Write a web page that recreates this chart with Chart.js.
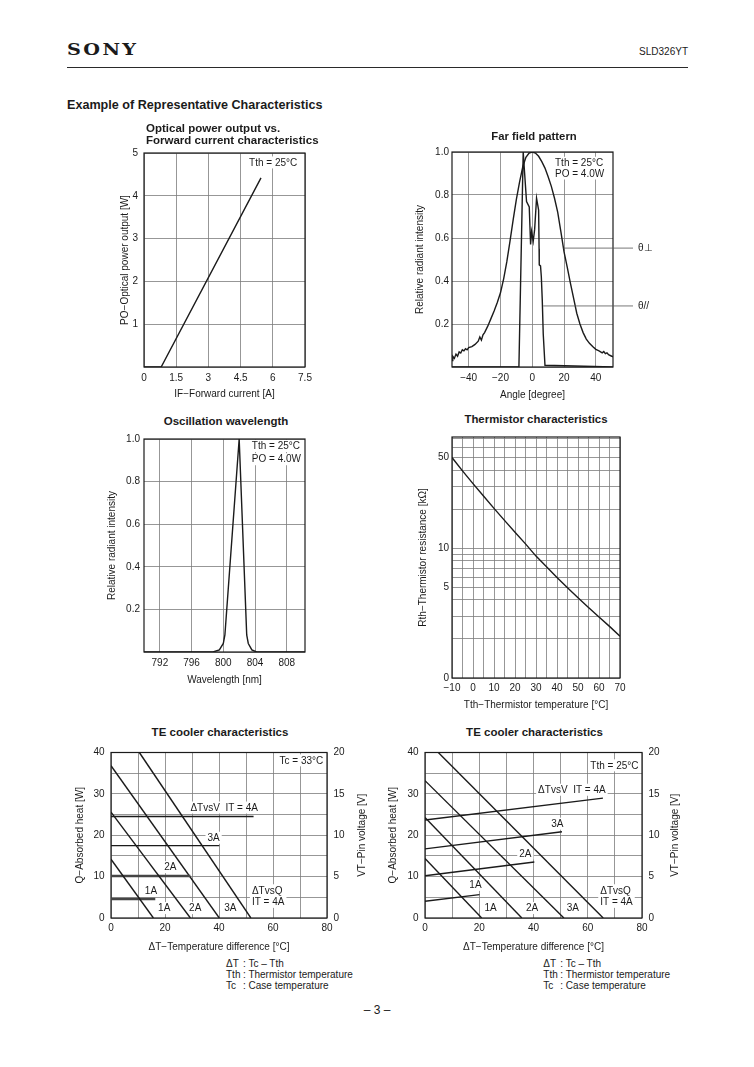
<!DOCTYPE html>
<html>
<head>
<meta charset="utf-8">
<title>SLD326YT characteristics</title>
<script src="https://cdn.jsdelivr.net/npm/chart.js@4.4.1/dist/chart.umd.min.js"></script>
<style>
  body { margin: 0; background: #fff; }
  #page { position: relative; width: 754px; height: 1067px; overflow: hidden; font-family: "Liberation Sans", Arial, Helvetica, sans-serif; color: #1b1b1b; }
  .txt { position: absolute; line-height: 1; white-space: nowrap; }
  canvas { position: absolute; }
  #logo { position: absolute; left: 67px; top: 42px; font-family: "DejaVu Serif", "Liberation Serif", serif; font-weight: bold; font-size: 16px; line-height: 1; letter-spacing: 2px; transform: scaleX(1.2); transform-origin: left top; }
  #rule { position: absolute; left: 67px; top: 66.5px; width: 621px; height: 1.6px; background: #2a2a2a; }
</style>
</head>
<body>
<div id="page">
  <div id="logo">SONY</div>
  <div id="rule"></div>
  <canvas id="c1"></canvas>
  <canvas id="c2"></canvas>
  <canvas id="c3"></canvas>
  <canvas id="c4"></canvas>
  <canvas id="c5"></canvas>
  <canvas id="c6"></canvas>
</div>
<script>
// ---- data ----

// Optical power output vs. forward current (Tth = 25°C)
const currentA = [0, 0.8, 5.45];
const powerW = [0, 0, 4.42];
const currentTicks = [0, 1.5, 3, 4.5, 6, 7.5];
const powerTicks = [0, 1, 2, 3, 4, 5];
const powerLabels = [1, 2, 3, 4, 5];

// Far field pattern, perpendicular
const perpAngle = [-50.5, -50, -49, -48, -47, -46, -45, -44, -43, -42, -41, -40, -38, -36, -34, -33, -32, -31, -30, -28, -26, -24, -22, -20, -18, -16, -14, -12, -10, -8, -6, -4, -2, 0, 2, 4, 6, 8, 10, 12, 14, 16, 18, 20, 22, 24, 26, 28, 30, 32, 34, 36, 38, 40, 42, 44, 45, 46, 47, 48, 50, 50.8];
const perpIntensity = [0.03, 0.05, 0.04, 0.06, 0.05, 0.07, 0.065, 0.08, 0.075, 0.085, 0.08, 0.09, 0.095, 0.105, 0.12, 0.14, 0.125, 0.15, 0.16, 0.19, 0.225, 0.26, 0.3, 0.345, 0.41, 0.49, 0.585, 0.685, 0.78, 0.86, 0.93, 0.975, 0.995, 1.0, 0.995, 0.98, 0.955, 0.925, 0.885, 0.84, 0.785, 0.72, 0.63, 0.535, 0.465, 0.39, 0.32, 0.25, 0.2, 0.16, 0.13, 0.11, 0.095, 0.082, 0.075, 0.066, 0.072, 0.062, 0.066, 0.057, 0.05, 0.047];
// Far field pattern, parallel
const parAngle = [-50.5, -8.4, -5.7, -4.8, -3.6, -1.9, -1.05, -0.4, 0.6, 1.5, 2.7, 4.0, 4.3, 4.4, 5.2, 5.7, 6.3, 6.9, 8.0, 50.8];
const parIntensity = [0, 0, 1.0, 0.9, 0.77, 0.745, 0.57, 0.63, 0.585, 0.64, 0.785, 0.73, 0.55, 0.475, 0.47, 0.42, 0.31, 0.155, 0.008, 0];
const angleTicks = [-40, -20, 0, 20, 40];
const intensityTicks = [0, 0.2, 0.4, 0.6, 0.8, 1.0];
const intensityLabels = [0.2, 0.4, 0.6, 0.8, 1.0];

// Oscillation wavelength
const wavelengthNm = [790, 798.7, 799.5, 800.0, 800.2, 802.0, 802.95, 803.15, 803.6, 804.2, 810.3];
const wavelengthIntensity = [0, 0, 0.01, 0.04, 0.08, 1.0, 0.08, 0.04, 0.01, 0, 0];
const wavelengthTicks = [792, 796, 800, 804, 808];

// Thermistor characteristics
const thermTemp = [-10, -5, 0, 5, 10, 15, 20, 25, 30, 35, 40, 45, 50, 55, 60, 65, 70];
const thermKohm = [50, 39.5, 31.5, 25.3, 20.3, 16.4, 13.3, 10.8, 8.7, 7.2, 5.95, 4.95, 4.15, 3.5, 2.95, 2.5, 2.1];
const tempTicks = [-10, -5, 0, 5, 10, 15, 20, 25, 30, 35, 40, 45, 50, 55, 60, 65, 70];
const tempLabels = [-10, 0, 10, 20, 30, 40, 50, 60, 70];
const resistTicks = [1, 2, 3, 4, 5, 6, 7, 8, 9, 10, 20, 30, 40, 50, 60, 70];
const resistLabels = [1, 5, 10, 50];

// TE cooler, Tc = 33°C  (x = ΔT, Q in W, V in V) per current 1A..4A
const teCurrents = ['1A', '2A', '3A', '4A'];
const caseQdT = [[0, 15.7], [0, 29.4], [0, 40.1], [10.5, 51.8]];
const caseQ = [[14.2, 0], [25.6, 0], [36.8, 0], [40, 0]];
const caseVdT = [[0, 16.4], [0, 29.4], [0, 40.1], [0, 52.8]];
const caseV = [[2.3, 2.3], [5.08, 5.08], [8.75, 8.75], [12.27, 12.27]];

// TE cooler, Tth = 25°C
const thermQdT = [[0, 20.9], [0, 35.7], [0, 51.2], [4.9, 65.7]];
const thermQ = [[14.4, 0], [24.3, 0], [33.2, 0], [40, 0]];
const thermVdT = [[0, 20.1], [0, 40.3], [0, 50.5], [0, 65.6]];
const thermV = [[2.02, 2.83], [5.1, 6.77], [8.35, 10.42], [11.85, 14.48]];

const dTTicks = [0, 10, 20, 30, 40, 50, 60, 70, 80];
const dTLabels = [0, 20, 40, 60, 80];
const heatTicks = [0, 5, 10, 15, 20, 25, 30, 35, 40];
const heatLabels = [0, 10, 20, 30, 40];
const voltTicks = [0, 5, 10, 15, 20];

// ---- drawing ----
const FONT = '"Liberation Sans", Arial, Helvetica, sans-serif';
const INK = '#1b1b1b';
const GRID = '#7c7c7c';

const page = document.getElementById('page');

function addText(text, x, cy, size, opts) {
  opts = opts || {};
  const d = document.createElement('div');
  d.className = 'txt';
  d.textContent = text;
  d.style.fontSize = size + 'px';
  d.style.left = x + 'px';
  d.style.top = (cy - size * 0.5) + 'px';
  if (opts.bold) d.style.fontWeight = 'bold';
  if (opts.align === 'center') d.style.transform = 'translateX(-50%)';
  if (opts.align === 'right') d.style.transform = 'translateX(-100%)';
  page.appendChild(d);
}

const pts = (xs, ys) => xs.map((x, i) => ({ x: x, y: ys[i] }));
const minus = v => String(v).replace('-', '\u2212');

function curve(data, extra) {
  return Object.assign({
    data: data, showLine: true, borderColor: INK, borderWidth: 1.4,
    pointRadius: 0, tension: 0, fill: false
  }, extra || {});
}

function axis(o) {
  return {
    type: o.type || 'linear',
    position: o.position,
    min: o.min,
    max: o.max,
    afterBuildTicks: s => { s.ticks = o.ticks.map(v => ({ value: v })); },
    ticks: {
      autoSkip: false, maxRotation: 0, minRotation: 0, padding: o.pad,
      color: INK, font: { family: FONT, size: 10 },
      callback: v => (o.labels.includes(v) ? (o.fmt ? o.fmt(v) : minus(v)) : '')
    },
    grid: { display: o.grid !== false, color: GRID, lineWidth: 0.8, drawTicks: false },
    border: { display: false },
    title: { display: o.title !== undefined, text: o.title, color: INK, padding: 0, font: { family: FONT, size: 10 } }
  };
}

// frame around the plot area
const framePlugin = {
  id: 'frame',
  beforeDatasetsDraw(chart) {
    const a = chart.chartArea, c = chart.ctx;
    c.save();
    c.strokeStyle = INK;
    c.lineWidth = 1.2;
    c.strokeRect(a.left, a.top, a.right - a.left, a.bottom - a.top);
    c.restore();
  }
};

// right-hand axis title, reading bottom to top like the left one
function rightTitlePlugin(text) {
  return {
    id: 'rightTitle',
    afterDraw(chart) {
      const c = chart.ctx, a = chart.chartArea;
      c.save();
      c.translate(chart.width - 6, (a.top + a.bottom) / 2);
      c.rotate(-Math.PI / 2);
      c.font = '10px ' + FONT;
      c.fillStyle = INK;
      c.textAlign = 'center';
      c.textBaseline = 'middle';
      c.fillText(text, 0, 0);
      c.restore();
    }
  };
}

// text notes placed in data units, on a white patch
function notesPlugin(notes) {
  return {
    id: 'notes',
    beforeDatasetsDraw(chart) {
      const c = chart.ctx;
      c.save();
      c.font = '10px ' + FONT;
      c.textBaseline = 'middle';
      notes.forEach(n => {
        const px = chart.scales.x.getPixelForValue(n.x);
        const py = chart.scales[n.axis || 'y'].getPixelForValue(n.y);
        const w = c.measureText(n.text).width;
        let left = px;
        if (n.align === 'center') left = px - w / 2;
        if (n.align === 'right') left = px - w;
        c.fillStyle = '#fff';
        c.fillRect(left - 2, py - 6, w + 4, 12);
        c.fillStyle = INK;
        c.textAlign = 'left';
        c.fillText(n.text, left, py + 0.5);
      });
      c.restore();
    }
  };
}

function makeChart(id, lay, datasets, scales, extra) {
  const box = lay.box, area = lay.area;
  const cv = document.getElementById(id);
  cv.width = box.right - box.left;
  cv.height = box.bottom - box.top;
  cv.style.left = box.left + 'px';
  cv.style.top = box.top + 'px';
  cv.style.width = cv.width + 'px';
  cv.style.height = cv.height + 'px';
  scales.x.afterFit = s => { s.height = box.bottom - area.b; };
  scales.y.afterFit = s => { s.width = area.l - box.left; };
  let padRight = box.right - area.r;
  if (scales.y2) {
    scales.y2.afterFit = s => { s.width = box.right - area.r; };
    padRight = 0;
  }
  return new Chart(cv, {
    type: 'scatter',
    data: { datasets: datasets },
    options: {
      responsive: false,
      animation: false,
      devicePixelRatio: 1,
      layout: { padding: { top: area.t - box.top, right: padRight, left: 0, bottom: 0 } },
      plugins: { legend: { display: false }, tooltip: { enabled: false } },
      scales: scales
    },
    plugins: [framePlugin].concat(extra || [])
  });
}

// page texts
addText('SLD326YT', 688, 52.3, 10, { align: 'right' });
addText('Example of Representative Characteristics', 67, 105.5, 12.6, { bold: true });
addText('Optical power output vs.', 146, 128.7, 11.5, { bold: true });
addText('Forward current characteristics', 146, 141, 11.5, { bold: true });
addText('Far field pattern', 534, 136.7, 11.3, { bold: true, align: 'center' });
addText('Oscillation wavelength', 226, 421.7, 11.5, { bold: true, align: 'center' });
addText('Thermistor characteristics', 536, 420, 11.4, { bold: true, align: 'center' });
addText('TE cooler characteristics', 220, 732.3, 11.5, { bold: true, align: 'center' });
addText('TE cooler characteristics', 534.5, 732.3, 11.5, { bold: true, align: 'center' });
addText('\u2013 3 \u2013', 377, 1010, 12, { align: 'center' });

const footRows = [['\u0394T', ': Tc \u2013 Tth'], ['Tth', ': Thermistor temperature'], ['Tc', ': Case temperature']];
[[226, 243], [543.3, 560.3]].forEach(cols => {
  footRows.forEach((r, i) => {
    addText(r[0], cols[0], 963.6 + i * 11.2, 10);
    addText(r[1], cols[1], 963.6 + i * 11.2, 10);
  });
});

// 1. Optical power output vs forward current
makeChart('c1',
  { box: { left: 119, top: 140, right: 325, bottom: 400 }, area: { l: 144, t: 153, r: 305, b: 367 } },
  [curve(pts(currentA, powerW))],
  {
    x: axis({ min: 0, max: 7.5, ticks: currentTicks, labels: currentTicks, pad: 5, title: 'IF\u2212Forward current [A]' }),
    y: axis({ min: 0, max: 5, ticks: powerTicks, labels: powerLabels, pad: 6, title: 'PO\u2212Optical power output [W]' })
  },
  [notesPlugin([{ text: 'Tth = 25\u00b0C', x: 7.14, y: 4.78, align: 'right' }])]
);

// 2. Far field pattern
const leaders = [{ text: '\u03b8\u22a5', x: 19.5, y: 0.553 }, { text: '\u03b8//', x: 6.9, y: 0.284 }];
const leaderPlugin = {
  id: 'leaders',
  afterDatasetsDraw(chart) {
    const c = chart.ctx, a = chart.chartArea;
    c.save();
    c.strokeStyle = '#555';
    c.lineWidth = 0.8;
    c.font = '10px ' + FONT;
    c.fillStyle = INK;
    c.textBaseline = 'middle';
    leaders.forEach(l => {
      const px = chart.scales.x.getPixelForValue(l.x);
      const py = chart.scales.y.getPixelForValue(l.y);
      c.beginPath();
      c.moveTo(px, py);
      c.lineTo(a.right + 20, py);
      c.stroke();
      c.fillText(l.text, a.right + 25, py);
    });
    c.restore();
  }
};
makeChart('c2',
  { box: { left: 414, top: 140, right: 660, bottom: 401 }, area: { l: 452, t: 152, r: 613, b: 367 } },
  [curve(pts(perpAngle, perpIntensity)), curve(pts(parAngle, parIntensity))],
  {
    x: axis({ min: -50.5, max: 50.8, ticks: angleTicks, labels: angleTicks, pad: 5, title: 'Angle [degree]' }),
    y: axis({ min: 0, max: 1, ticks: intensityTicks, labels: intensityLabels, pad: 3, fmt: v => v.toFixed(1), title: 'Relative radiant intensity' })
  },
  [notesPlugin([
    { text: 'Tth = 25\u00b0C', x: 14.3, y: 0.95 },
    { text: 'PO = 4.0W', x: 14.3, y: 0.9 }
  ]), leaderPlugin]
);

// 3. Oscillation wavelength
makeChart('c3',
  { box: { left: 106, top: 428, right: 325, bottom: 686 }, area: { l: 144, t: 439, r: 305, b: 652 } },
  [curve(pts(wavelengthNm, wavelengthIntensity))],
  {
    x: axis({ min: 790, max: 810.3, ticks: wavelengthTicks, labels: wavelengthTicks, pad: 5, title: 'Wavelength [nm]' }),
    y: axis({ min: 0, max: 1, ticks: intensityTicks, labels: intensityLabels, pad: 4, fmt: v => v.toFixed(1), title: 'Relative radiant intensity' })
  },
  [notesPlugin([
    { text: 'Tth = 25\u00b0C', x: 803.6, y: 0.967 },
    { text: 'PO = 4.0W', x: 803.6, y: 0.905 }
  ])]
);

// 4. Thermistor characteristics
makeChart('c4',
  { box: { left: 417, top: 428, right: 640, bottom: 711 }, area: { l: 452, t: 437, r: 620, b: 678 } },
  [curve(pts(thermTemp, thermKohm))],
  {
    x: axis({ min: -10, max: 70, ticks: tempTicks, labels: tempLabels, pad: 4, title: 'Tth\u2212Thermistor temperature [\u00b0C]' }),
    y: axis({ type: 'logarithmic', min: 1, max: 72, ticks: resistTicks, labels: resistLabels, pad: 3, fmt: v => (v === 1 ? '0' : String(v)), title: 'Rth\u2212Thermistor resistance [k\u03a9]' })
  }
);

// 5 & 6. TE cooler characteristics
function teDatasets(qdT, q, vdT, v, doubled) {
  const ds = [];
  teCurrents.forEach((name, i) => {
    ds.push(curve(pts(qdT[i], q[i]), { yAxisID: 'y' }));
    const heavy = doubled && i < 2;
    ds.push(curve(pts(vdT[i], v[i]), { yAxisID: 'y2', borderWidth: heavy ? 2.6 : 1.4, borderColor: heavy ? '#454545' : INK }));
  });
  return ds;
}
function teScales() {
  return {
    x: axis({ min: 0, max: 80, ticks: dTTicks, labels: dTLabels, pad: 4, title: '\u0394T\u2212Temperature difference [\u00b0C]' }),
    y: axis({ min: 0, max: 40, ticks: heatTicks, labels: heatLabels, pad: 6.5, title: 'Q\u2212Absorbed heat [W]' }),
    y2: axis({ min: 0, max: 20, position: 'right', grid: false, ticks: voltTicks, labels: voltTicks, pad: 6.5 })
  };
}
const voltTitle = 'VT\u2212Pin voltage [V]';

makeChart('c5',
  { box: { left: 74, top: 740, right: 368, bottom: 953 }, area: { l: 111, t: 750, r: 327, b: 918 } },
  teDatasets(caseQdT, caseQ, caseVdT, caseV, true),
  teScales(),
  [notesPlugin([
    { text: 'Tc = 33\u00b0C', x: 78.6, y: 38.1, align: 'right' },
    { text: '\u0394TvsV  IT = 4A', x: 29.4, y: 26.7 },
    { text: '3A', x: 38, y: 19.4, align: 'center' },
    { text: '2A', x: 22, y: 12.3, align: 'center' },
    { text: '1A', x: 14.8, y: 6.7, align: 'center' },
    { text: '1A', x: 19.7, y: 2.4, align: 'center' },
    { text: '2A', x: 31.2, y: 2.4, align: 'center' },
    { text: '3A', x: 44.2, y: 2.4, align: 'center' },
    { text: '\u0394TvsQ', x: 52.2, y: 6.7 },
    { text: 'IT = 4A', x: 52.2, y: 3.9 }
  ]), rightTitlePlugin(voltTitle)]
);

makeChart('c6',
  { box: { left: 387, top: 740, right: 681, bottom: 953 }, area: { l: 425, t: 749, r: 642, b: 918 } },
  teDatasets(thermQdT, thermQ, thermVdT, thermV, false),
  teScales(),
  [notesPlugin([
    { text: 'Tth = 25\u00b0C', x: 78.7, y: 36.9, align: 'right' },
    { text: '\u0394TvsV  IT = 4A', x: 41.7, y: 31 },
    { text: '3A', x: 48.8, y: 22.8, align: 'center' },
    { text: '2A', x: 37, y: 15.6, align: 'center' },
    { text: '1A', x: 18.6, y: 8.0, align: 'center' },
    { text: '1A', x: 24.2, y: 2.4, align: 'center' },
    { text: '2A', x: 39.5, y: 2.4, align: 'center' },
    { text: '3A', x: 54.5, y: 2.4, align: 'center' },
    { text: '\u0394TvsQ', x: 64.6, y: 6.7 },
    { text: 'IT = 4A', x: 64.6, y: 3.9 }
  ]), rightTitlePlugin(voltTitle)]
);
</script>
</body>
</html>
